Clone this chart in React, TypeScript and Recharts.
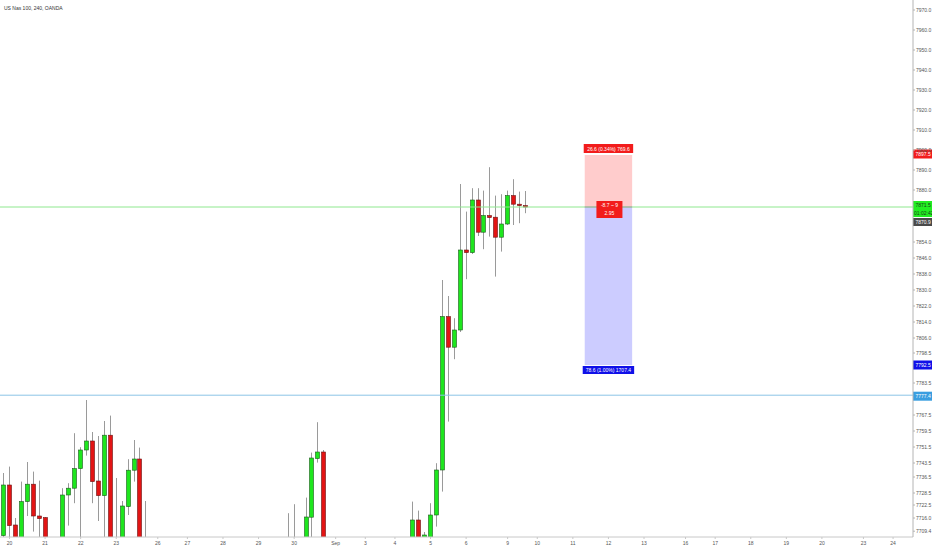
import React from "react";
import {
  ComposedChart,
  Bar,
  XAxis,
  YAxis,
  ReferenceLine,
  ReferenceArea,
} from "recharts";

// 4H bar slots, counted from the Aug 20 open
const barIndex = [
  -1, 0, 1, 2, 3, 4, 5, 6, 9, 10, 11, 12, 13, 14, 15, 16, 17, 18, 19, 20, 21,
  22, 23, 47, 48, 50, 51, 52, 53, 68, 69, 70, 71, 72, 73, 74, 75, 76, 77, 78,
  79, 80, 81, 82, 83, 84, 85, 86, 87,
];
const opens = [
  7707.2, 7732.5, 7712.5, 7698, 7724.2, 7732.9, 7717, 7716.2, 7700, 7727.5,
  7730.9, 7740.7, 7750, 7754.5, 7734.5, 7727.2, 7757.4, 7701, 7700, 7721.7,
  7739.9, 7745.5, 7698, 7696, 7700, 7700, 7716.4, 7745.7, 7749, 7700, 7715,
  7706.3, 7703, 7717.5, 7740, 7816.7, 7801.4, 7810, 7850, 7848.7, 7875, 7858.9,
  7867.2, 7866.4, 7856.4, 7863, 7877.2, 7872.9, 7872.2,
];
const highs = [
  7738.5, 7741.7, 7716, 7734.2, 7744, 7739.2, 7734.7, 7716.5, 7730.9, 7733.4,
  7758.4, 7751.4, 7775, 7759, 7757, 7764.5, 7767.2, 7736, 7724.5, 7745.4, 7755,
  7751.2, 7724.5, 7718.4, 7722.9, 7726.2, 7748.7, 7763.9, 7750, 7724.2, 7719.7,
  7709, 7723.4, 7743.4, 7835, 7827, 7815.9, 7883, 7869.2, 7880.9, 7880.9,
  7879.7, 7891.4, 7877.2, 7877.9, 7879.7, 7885.4, 7879.2, 7879.5,
];
const lows = [
  7702, 7704, 7695, 7694, 7717, 7709.2, 7704, 7696, 7696, 7712.2, 7723.4, 7703,
  7747.2, 7723.4, 7714.5, 7703, 7695, 7690, 7696, 7717.5, 7734.2, 7696, 7690,
  7692, 7693, 7695, 7704, 7743.7, 7695, 7695, 7697, 7703, 7700, 7711.7, 7729.2,
  7764.2, 7795.4, 7809, 7835.4, 7848, 7857, 7850.4, 7856.7, 7836.7, 7849.2,
  7862.5, 7862.5, 7863.4, 7868.4,
];
const closes = [
  7732.5, 7712.2, 7700, 7724.2, 7732.9, 7717, 7715.7, 7702, 7727.5, 7730.9,
  7740.7, 7750, 7754.5, 7734.2, 7727.2, 7757.4, 7700, 7695, 7722, 7739.9,
  7745.5, 7700, 7694, 7700, 7698, 7716.5, 7746, 7749, 7700, 7715, 7702, 7707.5,
  7717.5, 7740, 7816.7, 7801.4, 7810, 7850, 7848.7, 7875, 7858.9, 7867.2,
  7866.2, 7856.4, 7863, 7877.2, 7872.9, 7872.2, 7871.5,
];

const dayTicks = [
  0, 6, 12, 18, 25, 30, 36, 42, 48, 55, 60, 65, 71, 77, 84, 89, 95, 101, 107,
  114, 119, 125, 131, 137, 144, 149,
];
const dayLabels = [
  "20", "21", "22", "23", "26", "27", "28", "29", "30", "Sep", "3", "4", "5",
  "6", "9", "10", "11", "12", "13", "16", "17", "18", "19", "20", "23", "24",
];
const priceTicks = [
  7970, 7960, 7950, 7940, 7930, 7920, 7910, 7900, 7890, 7880, 7854, 7846, 7838,
  7830, 7822, 7814, 7806, 7798.5, 7783.5, 7767.5, 7759.5, 7751.5, 7743.5,
  7736.5, 7728.5, 7722.5, 7716, 7709.4,
];

const lastPrice = 7871.5;
const takeProfit = 7897.5;
const stopLoss = 7792.5;
const levelLine = 7777.4;
const boxStart = 97;
const boxEnd = 105;

const candles = barIndex.map((i, k) => ({
  i,
  o: opens[k],
  h: highs[k],
  l: lows[k],
  c: closes[k],
}));

const FONT = '"Liberation Sans", Arial, sans-serif';
const UP = "#1ee61e";
const DOWN = "#e31414";

const Candle = (props: any) => {
  const { x, y, width, height, payload } = props;
  const { o, h, l, c } = payload;
  const k = height / (h - l);
  const cx = Math.round(x + width / 2) + 0.5;
  const yOf = (v: number) => y + (h - v) * k;
  const up = c >= o;
  const top = yOf(Math.max(o, c));
  const bot = yOf(Math.min(o, c));
  return (
    <g>
      <line x1={cx} x2={cx} y1={y} y2={y + height} stroke="#9a9a9a" strokeWidth={1} />
      <rect
        x={cx - 2}
        y={top}
        width={4}
        height={Math.max(bot - top, 1)}
        fill={up ? UP : DOWN}
        stroke={up ? "#1c5a1c" : "#6a1212"}
        strokeWidth={0.6}
      />
    </g>
  );
};

const PriceTag = (props: any) => {
  const { viewBox, text, bg, color = "#fff", dy = 0 } = props;
  const right = viewBox.x + viewBox.width;
  const y = viewBox.y + dy;
  return (
    <g>
      <rect x={right} y={y - 4.5} width={19} height={9} fill={bg} />
      <text x={right + 2.5} y={y + 0.2} fill={color} fontSize={5} fontFamily={FONT} dominantBaseline="central">
        {text}
      </text>
    </g>
  );
};

const LastTag = (props: any) => {
  const { viewBox } = props;
  const right = viewBox.x + viewBox.width;
  const y = viewBox.y;
  return (
    <g fontSize={5} fontFamily={FONT}>
      <rect x={right} y={y - 6} width={19} height={16} fill="#22ee22" />
      <text x={right + 2.5} y={y - 1.8} fill="#1a3a1a" dominantBaseline="central">7871.5</text>
      <text x={right + 1} y={y + 5.5} fill="#1a3a1a" dominantBaseline="central">01:02:42</text>
      <rect x={right} y={y + 11} width={19} height={8} fill="#4a4a4a" />
      <text x={right + 2.5} y={y + 15.2} fill="#fff" dominantBaseline="central">7870.9</text>
    </g>
  );
};

const ProfitTag = (props: any) => {
  const { x, y, width } = props.viewBox;
  const cx = x + width / 2;
  return (
    <g fontSize={5} fontFamily={FONT} fill="#fff" textAnchor="middle">
      <rect x={x - 1} y={y - 11} width={width + 2} height={9} fill="#f21c1c" />
      <text x={cx} y={y - 6.3} dominantBaseline="central">26.6 (0.34%) 769.6</text>
    </g>
  );
};

const EntryTag = (props: any) => {
  const { x, y, width } = props.viewBox;
  const cx = x + width / 2;
  return (
    <g fontSize={5} fontFamily={FONT} fill="#fff" textAnchor="middle">
      <rect x={cx - 12} y={y - 6} width={26} height={17} fill="#f21c1c" />
      <text x={cx + 1} y={y - 1.8} dominantBaseline="central">-8.7 ~ 9</text>
      <text x={cx + 1} y={y + 5.5} dominantBaseline="central">2.95</text>
    </g>
  );
};

const LossTag = (props: any) => {
  const { x, y, width, height } = props.viewBox;
  const cx = x + width / 2;
  const bottom = y + height;
  return (
    <g fontSize={5} fontFamily={FONT} fill="#fff" textAnchor="middle">
      <rect x={x - 2} y={bottom + 1} width={width + 4} height={8} fill="#1010e8" />
      <text x={cx} y={bottom + 5.2} dominantBaseline="central">78.6 (1.00%) 1707.4</text>
    </g>
  );
};

export default function App() {
  return (
    <div style={{ position: "absolute", left: 0, top: 0, width: 932, height: 550, background: "#fff" }}>
      <div
        style={{
          position: "absolute",
          left: 4,
          top: 5,
          fontSize: 5,
          fontFamily: FONT,
          color: "#333",
          zIndex: 2,
        }}
      >
        US Nas 100, 240, OANDA
      </div>
      <ComposedChart
        width={932}
        height={550}
        data={candles}
        margin={{ top: 0, right: 0, bottom: 0, left: 0 }}
      >
        <XAxis
          dataKey="i"
          type="number"
          domain={[-1.602, 152.36]}
          allowDataOverflow
          ticks={dayTicks}
          interval={0}
          tickFormatter={(v: number) => dayLabels[dayTicks.indexOf(v)] ?? ""}
          height={13}
          tickSize={2}
          tickMargin={2}
          stroke="#c8c8c8"
          tick={{ fontSize: 5, fill: "#555", fontFamily: FONT }}
        />
        <YAxis
          orientation="right"
          type="number"
          domain={[7706.5, 7975]}
          allowDataOverflow
          ticks={priceTicks}
          interval={0}
          tickFormatter={(v: number) => v.toFixed(1)}
          width={19}
          tickSize={2}
          tickMargin={1}
          stroke="#b4b4b4"
          tick={{ fontSize: 5, fill: "#555", fontFamily: FONT, textAnchor: "start" }}
        />
        <ReferenceArea
          x1={boxStart}
          x2={boxEnd}
          y1={lastPrice}
          y2={takeProfit}
          fill="#ff0000"
          fillOpacity={0.2}
          stroke="none"
          label={<ProfitTag />}
        />
        <ReferenceArea
          x1={boxStart}
          x2={boxEnd}
          y1={stopLoss}
          y2={lastPrice}
          fill="#0000ff"
          fillOpacity={0.2}
          stroke="none"
          label={<LossTag />}
        />
        <ReferenceLine y={levelLine} stroke="#8cc4e6" strokeWidth={1} />
        <ReferenceLine y={lastPrice} stroke="#8fe88f" strokeWidth={1} />
        <ReferenceLine
          segment={[
            { x: boxStart, y: lastPrice },
            { x: boxEnd, y: lastPrice },
          ]}
          stroke="#a0a0a0"
          strokeWidth={1}
          label={<EntryTag />}
        />
        <Bar
          dataKey={(d: any) => [d.l, d.h]}
          barSize={5}
          shape={<Candle />}
          isAnimationActive={false}
        />
        <ReferenceLine y={takeProfit} stroke="none" label={<PriceTag text="7897.5" bg="#f21c1c" dy={-1} />} />
        <ReferenceLine y={stopLoss} stroke="none" label={<PriceTag text="7792.5" bg="#1010e8" />} />
        <ReferenceLine y={levelLine} stroke="none" label={<PriceTag text="7777.4" bg="#3a9ee0" dy={1} />} />
        <ReferenceLine y={lastPrice} stroke="none" label={<LastTag />} />
      </ComposedChart>
    </div>
  );
}
